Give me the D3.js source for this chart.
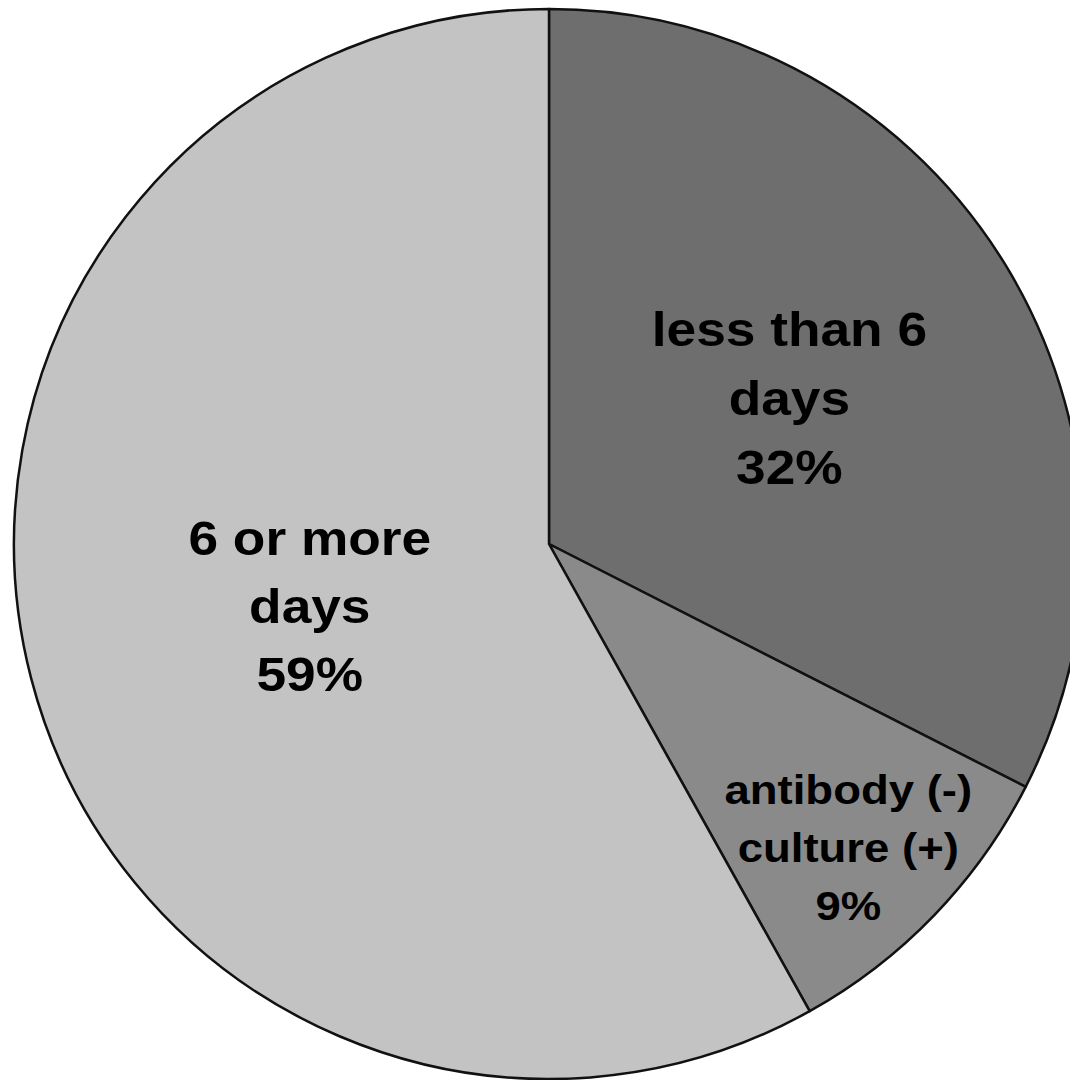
<!DOCTYPE html>
<html>
<head>
<meta charset="utf-8">
<script src="https://cdn.jsdelivr.net/npm/d3@7"></script>
<style>
  html, body { margin: 0; padding: 0; background: #fff; }
  svg { display: block; }
</style>
</head>
<body>
<div id="chart"></div>
<script>
  // slice values (angles), printed labels kept separately
  const categories = ['less than 6 days', 'antibody (-) culture (+)', '6 or more days']
  const values = [32.5, 9.4, 58.1]
  const labelLines = [
    ['less than 6', 'days', '32%'],
    ['antibody (-)', 'culture (+)', '9%'],
    ['6 or more', 'days', '59%']
  ]

  const width = 1070
  const height = 1080
  const cx = 549
  const cy = 544
  const radius = 535

  const colors = d3.scaleOrdinal()
    .domain(categories)
    .range(['#6e6e6e', '#8a8a8a', '#c3c3c3'])

  // per slice label placement: fraction of radius, nudge, font size, line height
  const labelLayout = {
    'less than 6 days': { r: 0.527, dx: 0, dy: 1, size: 48, lineH: 69 },
    'antibody (-) culture (+)': { r: 0.80, dx: -9, dy: 6, size: 41, lineH: 58 },
    '6 or more days': { r: 0.462, dx: 0, dy: 0, size: 48, lineH: 68 }
  }
  const stretchX = 1.11

  const svg = d3.select('#chart')
    .append('svg')
      .attr('width', width)
      .attr('height', height)
    .append('g')
      .attr('transform', `translate(${cx},${cy})`)

  const pie = d3.pie()
    .sort(null)
    .value(d => d.value)

  const arcs = pie(categories.map((c, i) => ({ name: c, value: values[i], lines: labelLines[i] })))

  const arc = d3.arc()
    .innerRadius(0)
    .outerRadius(radius)

  svg.selectAll('path.slice')
    .data(arcs)
    .enter()
    .append('path')
      .attr('class', 'slice')
      .attr('d', arc)
      .attr('fill', d => colors(d.data.name))
      .attr('stroke', '#111')
      .attr('stroke-width', 2.5)
      .attr('stroke-linejoin', 'round')

  arcs.forEach(d => {
    const layout = labelLayout[d.data.name]
    const labelArc = d3.arc()
      .innerRadius(radius * layout.r)
      .outerRadius(radius * layout.r)
    const [x, y] = labelArc.centroid(d)
    const n = d.data.lines.length
    const text = svg.append('text')
      .attr('transform', `translate(${x + layout.dx},${y + layout.dy}) scale(${stretchX},1)`)
      .attr('text-anchor', 'middle')
      .attr('font-family', '"Liberation Sans", Arial, sans-serif')
      .attr('font-weight', 'bold')
      .attr('font-size', layout.size)
      .attr('fill', '#000')
    d.data.lines.forEach((line, i) => {
      text.append('tspan')
        .attr('x', 0)
        .attr('y', (i - (n - 1) / 2) * layout.lineH + layout.size * 0.358)
        .text(line)
    })
  })
</script>
</body>
</html>
